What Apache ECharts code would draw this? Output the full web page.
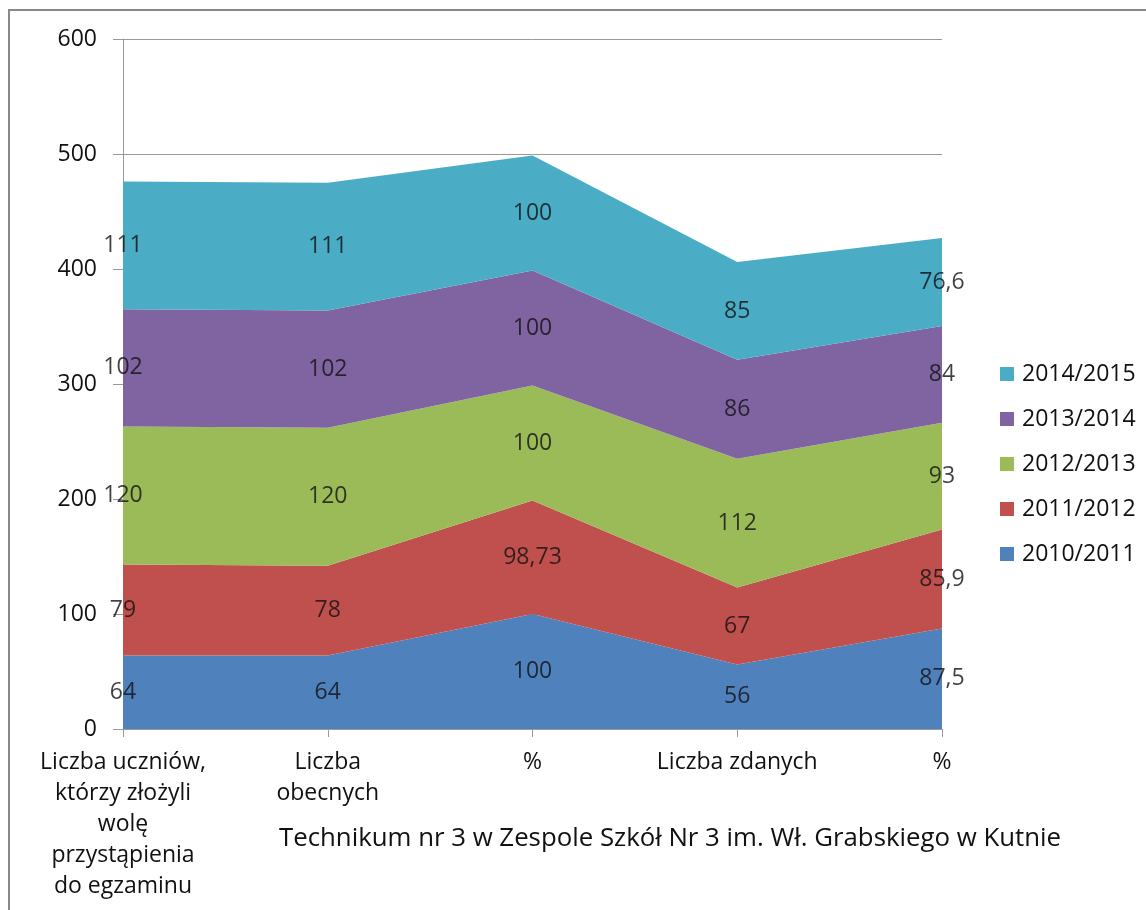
<!DOCTYPE html>
<html><head><meta charset="utf-8">
<script src="https://cdn.jsdelivr.net/npm/echarts@6/dist/echarts.min.js"></script>
<style>html,body{margin:0;padding:0;background:#fff}#c{width:1146px;height:910px}</style>
</head><body><div id="c"></div>
<script>
const categories = ["Liczba uczniów,\nktórzy złożyli\nwolę\nprzystąpienia\ndo egzaminu", "Liczba\nobecnych", "%", "Liczba zdanych", "%"];
const seriesNames = ["2010/2011", "2011/2012", "2012/2013", "2013/2014", "2014/2015"];
const s2010 = [64, 64, 100, 56, 87.5];
const s2011 = [79, 78, 98.73, 67, 85.9];
const s2012 = [120, 120, 100, 112, 93];
const s2013 = [102, 102, 100, 86, 84];
const s2014 = [111, 111, 100, 85, 76.6];
const yTicks = [0, 100, 200, 300, 400, 500, 600];
const title = "Technikum nr 3 w Zespole Szkół Nr 3 im. Wł. Grabskiego w Kutnie";

const values = [s2010, s2011, s2012, s2013, s2014];
const colors = ["#4F81BD", "#C0504D", "#9BBB59", "#8064A2", "#4BACC6"];
const FONT = "Open Sans";
const FS = 23;
const fmt = v => String(v).replace('.', ',');

const series = [];
values.forEach((arr, i) => {
  series.push({
    name: seriesNames[i], type: 'line', stack: 'total', data: arr,
    symbol: 'none', lineStyle: {width: 0}, itemStyle: {color: colors[i]},
    areaStyle: {color: colors[i], opacity: 1}, z: 2, silent: true
  });
});
// label series at band middles
values.forEach((arr, i) => {
  const mids = arr.map((v, j) => {
    let base = 0; for (let k = 0; k < i; k++) base += values[k][j];
    return {value: [j, base + v / 2], raw: v};
  });
  series.push({
    name: 'lbl' + i, type: 'scatter', data: mids, symbolSize: 0, z: 5, silent: true,
    label: {show: true, position: 'inside', color: '#111', fontFamily: FONT, fontSize: FS,
      formatter: p => fmt(p.data.raw)}
  });
});

const chart = echarts.init(document.getElementById('c'), null, {renderer: 'canvas'});
chart.setOption({
  animation: false,
  backgroundColor: '#fff',
  grid: {left: 123, right: 204, top: 39, bottom: 181, containLabel: false},
  title: {text: title, left: 274, top: 821, textStyle: {fontFamily: FONT, fontSize: 25.8, fontWeight: 'normal', color: '#111'}},
  legend: {
    data: seriesNames.slice().reverse(), orient: 'vertical', left: 995, top: 353,
    itemWidth: 14, itemHeight: 14, itemGap: 13, icon: 'rect',
    textStyle: {fontFamily: FONT, fontSize: FS, color: '#111', lineHeight: 32, padding: [0, 0, 0, 3]}
  },
  xAxis: {
    type: 'category', data: categories, boundaryGap: false,
    axisLine: {lineStyle: {color: '#999'}},
    axisTick: {show: true, length: 8, lineStyle: {color: '#999'}},
    axisLabel: {fontFamily: FONT, fontSize: FS, color: '#111', margin: 18, lineHeight: 31, interval: 0},
    splitLine: {show: false}
  },
  yAxis: {
    type: 'value', min: 0, max: 600, interval: 100,
    axisLine: {show: true, lineStyle: {color: '#999'}},
    axisTick: {show: true, length: 10, lineStyle: {color: '#999'}},
    axisLabel: {fontFamily: FONT, fontSize: FS, color: '#111', margin: 26,
      formatter: v => yTicks.includes(v) ? String(v) : ''},
    splitLine: {show: true, lineStyle: {color: '#999'}}
  },
  graphic: [{type: 'rect', shape: {x: 9, y: 10, width: 1200, height: 1000},
    style: {fill: 'none', stroke: '#888', lineWidth: 2}, z: 100, silent: true}],
  series: series
});
</script></body></html>
